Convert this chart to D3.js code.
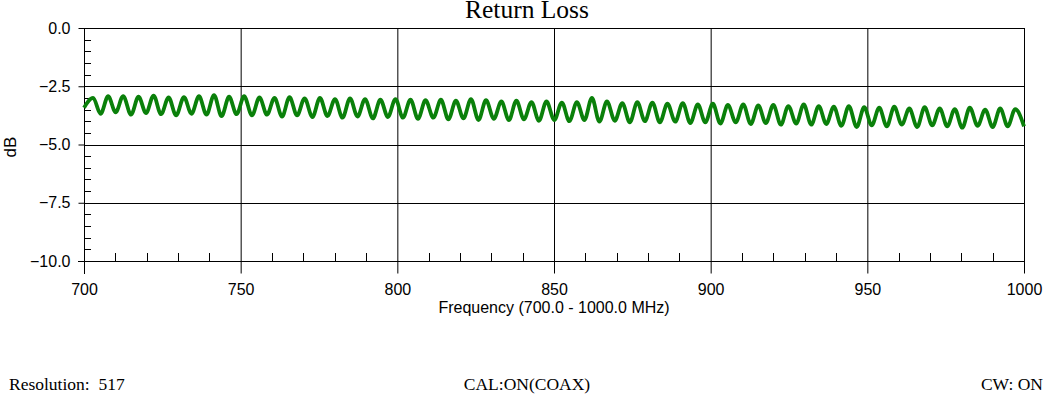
<!DOCTYPE html>
<html><head><meta charset="utf-8">
<script src="https://cdn.jsdelivr.net/npm/d3@7"></script>
<style>body{margin:0;background:#fff}svg{display:block}</style>
</head><body><svg id="c" width="1052" height="397"></svg>
<script>
// Extrema of the trace (start, alternating peak/trough, end), in MHz and dB
const peakFreq = [702.9,707.7,712.5,717.4,722.2,727.0,731.9,736.7,741.5,746.3,
  751.1,756.0,760.8,765.6,770.4,775.3,780.1,784.9,789.7,794.6,
  799.4,804.2,809.0,813.9,818.7,823.5,828.3,833.2,838.0,842.8,
  847.6,852.5,857.3,862.1,866.9,871.8,876.6,881.4,886.2,891.1,
  895.9,900.7,905.5,910.4,915.2,920.0,924.8,929.7,934.5,939.3,
  944.1,949.0,953.8,958.6,963.4,968.3,973.1,977.9,982.7,987.6,
  992.4,997.2];
const peakDb = [-3.00,-2.93,-2.92,-2.95,-2.90,-2.98,-2.97,-2.93,-2.88,-2.95,
  -2.93,-2.98,-3.00,-2.97,-3.02,-3.00,-3.05,-3.02,-3.05,-3.08,
  -3.05,-3.07,-3.10,-3.08,-3.12,-3.05,-3.10,-3.15,-3.12,-3.18,
  -3.15,-3.20,-3.18,-3.00,-3.15,-3.22,-3.18,-3.20,-3.25,-3.22,
  -3.28,-3.25,-3.30,-3.28,-3.32,-3.30,-3.35,-3.28,-3.35,-3.38,
  -3.35,-3.40,-3.42,-3.38,-3.45,-3.40,-3.45,-3.48,-3.42,-3.50,
  -3.45,-3.48];
const troughFreq = [705.3,710.1,715.0,719.8,724.6,729.4,734.3,739.1,743.9,748.7,
  753.6,758.4,763.2,768.0,772.9,777.7,782.5,787.3,792.2,797.0,
  801.8,806.6,811.5,816.3,821.1,825.9,830.8,835.6,840.4,845.2,
  850.1,854.9,859.7,864.5,869.4,874.2,879.0,883.8,888.7,893.5,
  898.3,903.1,908.0,912.8,917.6,922.4,927.3,932.1,936.9,941.7,
  946.6,951.4,956.2,961.0,965.9,970.7,975.5,980.3,985.2,990.0,
  994.8];
const troughDb = [-3.68,-3.62,-3.72,-3.65,-3.70,-3.75,-3.68,-3.72,-3.78,-3.70,
  -3.75,-3.72,-3.80,-3.75,-3.82,-3.78,-3.85,-3.80,-3.88,-3.82,
  -3.85,-3.90,-3.85,-3.92,-3.88,-3.95,-3.90,-3.95,-3.92,-3.98,
  -3.95,-4.00,-3.95,-4.02,-3.98,-4.05,-4.00,-4.05,-4.02,-4.08,
  -4.05,-4.10,-4.05,-4.12,-4.08,-4.15,-4.10,-4.15,-4.12,-4.20,
  -4.25,-4.18,-4.22,-4.15,-4.25,-4.18,-4.22,-4.28,-4.20,-4.25,
  -4.22];
const startPoint = [700.0, -3.42];
const endPoint = [1000.0, -4.22];

const xTicks = [700,750,800,850,900,950,1000];
const yTicks = [0,-2.5,-5,-7.5,-10];

const svg = d3.select('#c');
const L=84, R=1024, T=28, B=261;
const x = d3.scaleLinear().domain([700,1000]).range([L,R]);
const y = d3.scaleLinear().domain([-10,0]).range([B,T]);

// build series
const pts = [startPoint];
peakFreq.forEach((f,i)=>{
  pts.push([f, peakDb[i]]);
  if (i < troughFreq.length) pts.push([troughFreq[i], troughDb[i]]);
});
pts.push(endPoint);

const sans = "'Liberation Sans', Arial, sans-serif";
const serif = "'Liberation Serif', 'Times New Roman', serif";

// gridlines
svg.append('g').selectAll('line').data(xTicks.slice(1)).join('line')
  .attr('x1',d=>x(d)+0.5).attr('x2',d=>x(d)+0.5).attr('y1',T).attr('y2',B)
  .attr('stroke','#000').attr('stroke-width',1);
svg.append('g').selectAll('line').data(yTicks.slice(1,-1)).join('line')
  .attr('x1',L).attr('x2',R).attr('y1',d=>Math.round(y(d))+0.5).attr('y2',d=>Math.round(y(d))+0.5)
  .attr('stroke','#000').attr('stroke-width',1);
// top border
svg.append('line').attr('x1',L).attr('x2',R+0.5).attr('y1',T+0.5).attr('y2',T+0.5).attr('stroke','#000');

// y axis
const yAxis = d3.axisLeft(y).tickValues(yTicks).tickSize(6).tickPadding(8)
  .tickFormat(d3.format('.1f'));
const gy = svg.append('g').attr('transform',`translate(${L+0.5},0)`).call(yAxis);
gy.select('.domain').attr('d',`M0,${T}V${B+13}`);
gy.selectAll('text').attr('font-family',sans).attr('font-size',16).attr('fill','#000');
// y minor ticks (inside)
const yMinor = d3.range(0,-10.01,-0.5).filter(v=>Math.abs(v%2.5)>1e-6);
svg.append('g').selectAll('line').data(yMinor).join('line')
  .attr('x1',L).attr('x2',L+7).attr('y1',d=>Math.round(y(d))+0.5).attr('y2',d=>Math.round(y(d))+0.5)
  .attr('stroke','#000');

// x axis
const xAxis = d3.axisBottom(x).tickValues(xTicks).tickSize(12).tickPadding(10)
  .tickFormat(d3.format('d'));
const gx = svg.append('g').attr('transform',`translate(0,${B+0.5})`).call(xAxis);
gx.select('.domain').attr('d',`M${L-6},0H${R}`);
gx.selectAll('text').attr('font-family',sans).attr('font-size',16).attr('fill','#000');
// right border
svg.append('line').attr('x1',R+0.5).attr('x2',R+0.5).attr('y1',T).attr('y2',B+12).attr('stroke','#000');
// x minor ticks (inside)
const xMinor = d3.range(710,1000,10).filter(v=>v%50!==0);
svg.append('g').selectAll('line').data(xMinor).join('line')
  .attr('x1',d=>Math.round(x(d))+0.5).attr('x2',d=>Math.round(x(d))+0.5).attr('y1',B-8).attr('y2',B)
  .attr('stroke','#000');

// trace
const line = d3.line().x(d=>x(d[0])).y(d=>y(d[1])).curve(d3.curveMonotoneX);
svg.append('path').datum(pts).attr('d',line).attr('fill','none')
  .attr('stroke','#0a800a').attr('stroke-width',3.8).attr('stroke-linejoin','round');

// labels
svg.append('text').attr('x',527).attr('y',18).attr('text-anchor','middle')
  .attr('font-family',serif).attr('font-size',25.5).text('Return Loss');
svg.append('text').attr('x',554).attr('y',313).attr('text-anchor','middle')
  .attr('font-family',sans).attr('font-size',16).text('Frequency (700.0 - 1000.0 MHz)');
svg.append('text').attr('transform','translate(16,147) rotate(-90)').attr('text-anchor','middle')
  .attr('font-family',sans).attr('font-size',17).text('dB');
svg.append('text').attr('x',9).attr('y',390).attr('font-family',serif).attr('font-size',17.5)
  .attr('xml:space','preserve').style('white-space','pre').text('Resolution:  517');
svg.append('text').attr('x',527).attr('y',390).attr('text-anchor','middle').attr('font-family',serif).attr('font-size',17.5)
  .text('CAL:ON(COAX)');
svg.append('text').attr('x',1043).attr('y',390).attr('text-anchor','end').attr('font-family',serif).attr('font-size',17.5)
  .text('CW: ON');
</script></body></html>
